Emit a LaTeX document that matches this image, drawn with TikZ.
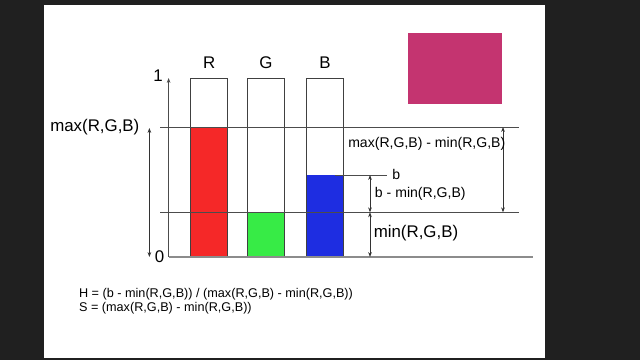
\documentclass[tikz,border=0pt]{standalone}
\usepackage{fontspec}
\setmainfont{Liberation Sans}
\usetikzlibrary{arrows.meta, positioning}

\definecolor{screen}{RGB}{32,32,32}
\definecolor{rlevel}{RGB}{245,40,40}
\definecolor{glevel}{RGB}{55,235,70}
\definecolor{blevel}{RGB}{30,45,225}
\definecolor{swatch}{RGB}{196,52,112}

\tikzset{
    bigtext/.style={font=\fontsize{12}{14}\selectfont, inner sep=0pt},
    smalltext/.style={font=\fontsize{10}{12}\selectfont, inner sep=0pt},
    formula/.style={font=\fontsize{9}{11}\selectfont, inner sep=0pt, anchor=west},
    level/.style={draw=black!75, line width=0.5pt},
    guide/.style={draw=black!70, line width=0.5pt},
    measure/.style={draw=black!80, line width=0.5pt, <->}
}

\begin{document}
\begin{tikzpicture}[x=0.025cm, y=-0.025cm, >={Stealth[length=3.5pt, width=2.6pt]}]
    \useasboundingbox (0,0) rectangle (640,360);
    \fill[screen] (0,0) rectangle (640,360);
    \fill[white] (44,5) rectangle (545,358);

    % colour swatch
    \fill[swatch] (408,33) rectangle (502,104);

    % channel levels
    \fill[rlevel] (190.6,127) rectangle (227.8,257);
    \fill[glevel] (247.3,212.3) rectangle (284.5,257);
    \fill[blevel] (306.5,175) rectangle (343.7,257);
    \draw[level] (190.6,78.3) rectangle (227.8,257);
    \draw[level] (247.3,78.3) rectangle (284.5,257);
    \draw[level] (306.5,78.3) rectangle (343.7,257);

    \node (rname) [bigtext] at (209.2,63) {R};
    \node (gname) [bigtext] at (265.9,63) {G};
    \node (bname) [bigtext] at (325.1,63) {B};

    % axis
    \coordinate (zero) at (168.6,257);
    \coordinate (one) at (168.6,78);
    \coordinate (baseR) at (532.6,257);
    \draw[guide, ->] (zero) -- (one);
    \draw[black!45, line width=1pt] (zero) -- (baseR);
    \node (onelabel) [bigtext] at (158,76) {1};
    \node (zerolabel) [bigtext] at (159.6,257) {0};

    % max and min levels
    \coordinate (maxL) at (160.4,127);
    \coordinate (maxR) at (519,127);
    \coordinate (minL) at (160.4,212.3);
    \coordinate (minR) at (519,212.3);
    \draw[guide] (maxL) -- (maxR);
    \draw[guide] (minL) -- (minR);

    \coordinate (maxtop) at (149.4,128);
    \coordinate (maxbot) at (149.4,257);
    \draw[measure] (maxtop) -- (maxbot);
    \node (maxlabel) [bigtext, anchor=east] at (139.6,127) {max(R,G,B)};

    % b level
    \coordinate (bL) at (335,175);
    \coordinate (bR) at (387,175);
    \draw[guide] (bL) -- (bR);
    \node (blabel) [smalltext, anchor=west] at (392,174) {b};

    \coordinate (btop) at (370,175);
    \coordinate (bmid) at (370,212.3);
    \coordinate (bbot) at (370,257);
    \draw[measure] (btop) -- (bmid);
    \draw[measure] (bmid) -- (bbot);
    \node (bminlabel) [smalltext, anchor=west] at (374.7,194) {b - min(R,G,B)};
    \node (minlabel) [bigtext, anchor=west] at (373.5,233) {min(R,G,B)};

    \coordinate (spantop) at (503,127);
    \coordinate (spanbot) at (503,212.3);
    \draw[measure] (spantop) -- (spanbot);
    \node (spanlabel) [smalltext, anchor=west] at (348,143.5) {max(R,G,B) - min(R,G,B)};

    % formulas
    \node (hue) [formula] at (78.8,294) {H = (b - min(R,G,B)) / (max(R,G,B) - min(R,G,B))};
    \node (sat) [formula] at (78.8,308.5) {S = (max(R,G,B) - min(R,G,B))};
\end{tikzpicture}
\end{document}
